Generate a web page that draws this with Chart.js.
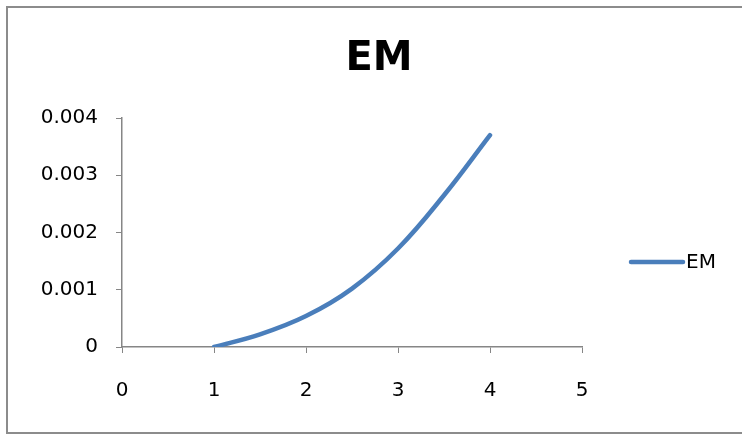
<!DOCTYPE html>
<html>
<head>
<meta charset="utf-8">
<script src="https://cdn.jsdelivr.net/npm/chart.js@4.4.0/dist/chart.umd.min.js"></script>
<style>
body { margin: 0; background: #fff; overflow: hidden; }
canvas { display: block; }
</style>
</head>
<body>
<canvas id="myChart" width="742" height="435"></canvas>
<script>
// values
var xVals = [1, 1.5, 2, 2.5, 3, 3.5, 4];
var emVals = [0, 0.00022, 0.00054, 0.00102, 0.00172, 0.00265, 0.0037];
var xTicks = ['0', '1', '2', '3', '4', '5'];
var yTicks = ['0', '0.001', '0.002', '0.003', '0.004'];
var seriesName = 'EM';
var titleText = 'EM';

var pts = xVals.map(function(x, i) { return { x: x, y: emVals[i] }; });
var axisColor = '#868686';
var fontFam = '"DejaVu Sans", sans-serif';

// frame, title and legend drawn by hand like the excel chart
var extras = {
  id: 'extras',
  beforeDraw: function(chart) {
    var c = chart.ctx;
    c.save();
    c.fillStyle = '#fff';
    c.fillRect(0, 0, chart.width, chart.height);
    c.strokeStyle = '#8c8c8c';
    c.lineWidth = 2;
    c.strokeRect(7, 7, 900, 426);
    c.restore();
  },
  afterDraw: function(chart) {
    var c = chart.ctx;
    var ds = chart.data.datasets[0];
    c.save();
    c.fillStyle = '#000';
    c.font = 'bold 40px ' + fontFam;
    c.textAlign = 'center';
    c.textBaseline = 'middle';
    c.fillText(titleText, 379, 60);
    c.strokeStyle = ds.borderColor;
    c.lineWidth = ds.borderWidth;
    c.lineCap = 'round';
    c.beginPath();
    c.moveTo(631, 262);
    c.lineTo(683, 262);
    c.stroke();
    c.font = '20px ' + fontFam;
    c.textAlign = 'left';
    c.fillText(ds.label, 686, 263);
    c.restore();
  }
};

new Chart(document.getElementById('myChart'), {
  type: 'scatter',
  data: {
    datasets: [{
      label: seriesName,
      data: pts,
      showLine: true,
      borderColor: '#4a7ebb',
      borderWidth: 4.5,
      borderCapStyle: 'round',
      pointRadius: 0,
      tension: 0.4,
      fill: false
    }]
  },
  options: {
    responsive: false,
    animation: false,
    layout: { padding: { left: 0, right: 160, top: 118, bottom: 0 } },
    plugins: { legend: { display: false }, title: { display: false }, tooltip: { enabled: false } },
    scales: {
      x: {
        type: 'linear',
        min: 0, max: 5,
        afterFit: function(s) { s.height = 88; },
        afterBuildTicks: function(s) { s.ticks = xTicks.map(function(t) { return { value: Number(t) }; }); },
        ticks: {
          callback: function(v, i) { return xTicks[i]; },
          color: '#000', font: { family: fontFam, size: 20 }, padding: 26, maxRotation: 0
        },
        grid: { drawOnChartArea: false, tickLength: 6, color: axisColor },
        border: { color: axisColor, width: 1.5 }
      },
      y: {
        min: 0, max: 0.004,
        afterFit: function(s) { s.width = 122; },
        afterBuildTicks: function(s) { s.ticks = yTicks.map(function(t) { return { value: Number(t) }; }); },
        ticks: {
          callback: function(v, i) { return yTicks[i]; },
          color: '#000', font: { family: fontFam, size: 20 }, padding: 18
        },
        grid: { drawOnChartArea: false, tickLength: 6, color: axisColor },
        border: { color: axisColor, width: 1.5 }
      }
    }
  },
  plugins: [extras]
});
</script>
</body>
</html>
